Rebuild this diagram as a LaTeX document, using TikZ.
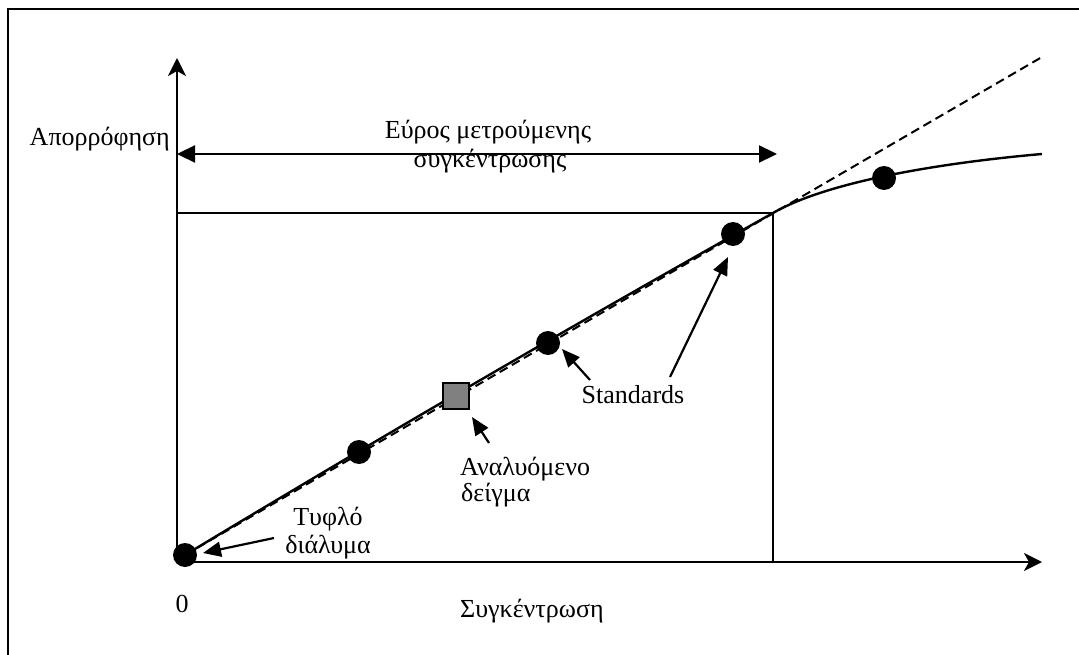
\documentclass[tikz,border=0pt]{standalone}
\usepackage{fontspec}
\setmainfont{Liberation Serif}
\usetikzlibrary{arrows.meta}
\begin{document}
\begin{tikzpicture}[x=1pt,y=-1pt,
  txt/.style={font=\fontsize{26}{30}\selectfont, inner sep=0pt},
  axisarrow/.style={line width=2.4pt, -{Stealth[length=18pt,width=18pt,inset=5pt]}},
  spanarrow/.style={line width=2.2pt, {Triangle[length=18pt,width=17pt]}-{Triangle[length=18pt,width=17pt]}},
  pointer/.style={line width=2.2pt, -{Triangle[length=18pt,width=15pt]}},
  stddot/.style={circle, fill=black, minimum size=24pt, inner sep=0pt},
  samplebox/.style={rectangle, draw=black, line width=1.4pt, fill=black!50, minimum size=26pt, inner sep=0pt},
  limline/.style={line width=2.2pt}]
\useasboundingbox (0,0) rectangle (1079,655);

% frame
\draw[line width=2.6pt] (8,655) -- (8,9) -- (1079,9);

% axes
\coordinate (orig) at (177,562);
\coordinate (ytop) at (177,58);
\coordinate (xend) at (1042,562);
\draw[axisarrow] (orig) -- (ytop);
\draw[axisarrow] (orig) -- (xend);

% working range
\coordinate (rl) at (177,154);
\coordinate (rr) at (777,154);
\draw[spanarrow] (rl) -- (rr);

% limit of the linear range
\coordinate (ylim) at (177,213);
\coordinate (K) at (773,213);
\coordinate (xlim) at (773,562);
\draw[limline] (ylim) -- (K) -- (xlim);

% calibration curve and its linear extrapolation
\coordinate (O) at (185,555);
\coordinate (E) at (1042,154);
\coordinate (D) at (1042,57);
\draw[line width=2pt, dash pattern=on 9pt off 5pt] (O) -- (D);
\draw[line width=2.4pt] (O) .. controls (379,438) and (575,324) .. (K)
  .. controls (830,180) and (950,162) .. (E);

% points
\node[stddot] (p0) at (185,555) {};
\node[stddot] (p1) at (359,452) {};
\node[stddot] (p2) at (548,343) {};
\node[stddot] (p3) at (733,234) {};
\node[stddot] (p4) at (884,178) {};
\node[samplebox] (sq) at (456,396) {};

% labels
\node[txt, anchor=base east] (ylab) at (170,146) {Απορρόφηση};
\node[txt, anchor=base] (rng1) at (488,139) {Εύρος μετρούμενης};
\node[txt, anchor=base] (rng2) at (490,168) {συγκέντρωσης};
\node[txt, anchor=base] (stdl) at (633,403) {Standards};
\node[txt, anchor=base west] (an1) at (460,475) {Αναλυόμενο};
\node[txt, anchor=base west] (an2) at (461,501) {δείγμα};
\node[txt, anchor=base] (bl1) at (328,525) {Τυφλό};
\node[txt, anchor=base] (bl2) at (328,553) {διάλυμα};
\node[txt, anchor=base] (zero) at (182,612) {0};
\node[txt, anchor=base west] (xlab) at (460,617) {Συγκέντρωση};

% pointers
\coordinate (s1) at (590,380);
\coordinate (s1t) at (562,349);
\coordinate (s2) at (670,377);
\coordinate (s2t) at (728,257);
\coordinate (a1) at (489,443);
\coordinate (a1t) at (472,417);
\coordinate (b1) at (274,538);
\coordinate (b1t) at (203,553);
\draw[pointer] (s1) -- (s1t);
\draw[pointer] (s2) -- (s2t);
\draw[pointer] (a1) -- (a1t);
\draw[pointer] (b1) -- (b1t);
\end{tikzpicture}
\end{document}
